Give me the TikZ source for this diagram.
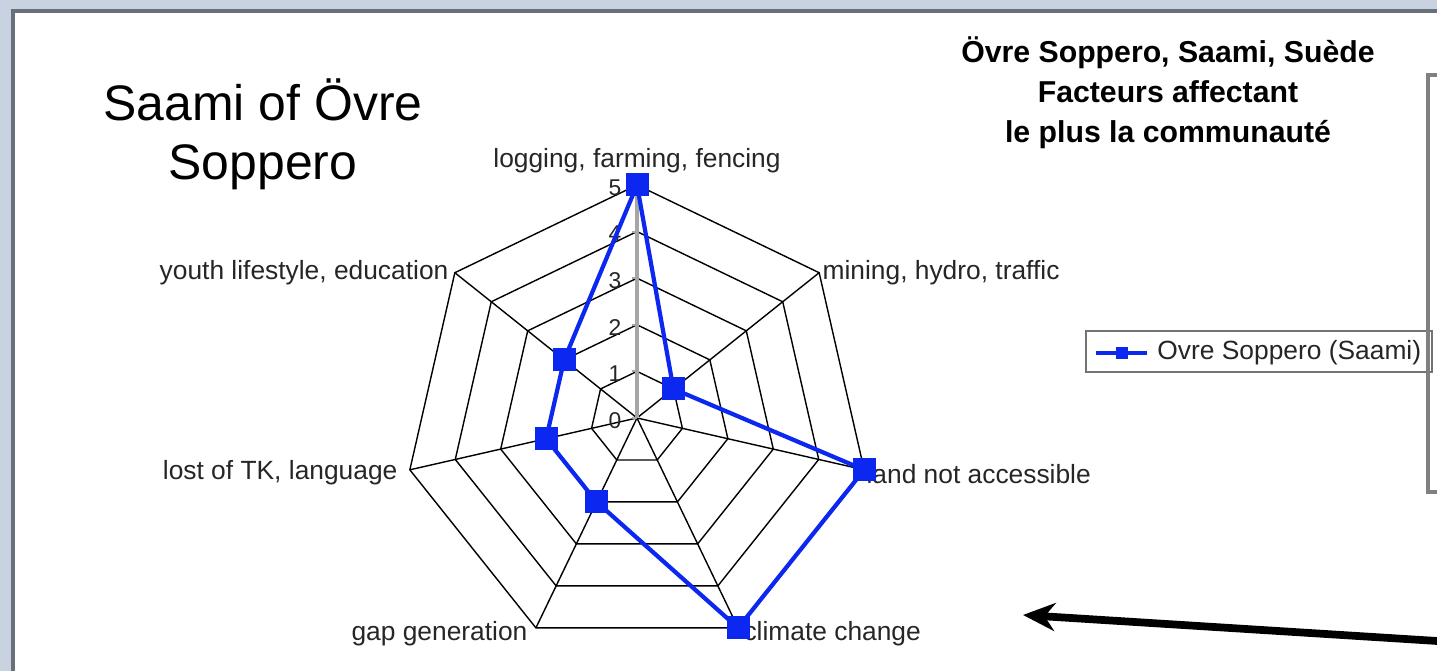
\documentclass[tikz,border=0pt]{standalone}
\usepackage{fontspec}
\setmainfont{Liberation Sans}
\usetikzlibrary{arrows.meta}
\definecolor{seriesblue}{RGB}{12,40,240}
\definecolor{slidebg}{RGB}{200,210,224}
\definecolor{framegray}{RGB}{105,112,122}

\tikzset{
  ring/.style={draw=black, line width=0.4pt},
  valaxis/.style={draw=black!35, line width=1pt},
  series/.style={draw=seriesblue, line width=1.2pt, line join=round},
  mk/.style={fill=seriesblue, minimum size=2.3mm, inner sep=0pt},
  axlabel/.style={font=\fontsize{7.5}{9}\selectfont, text=black!85, inner sep=0.5pt},
  ticklabel/.style={font=\fontsize{6.5}{8}\selectfont, text=black!85, inner sep=0pt, anchor=east},
}

\begin{document}
\begin{tikzpicture}
	\useasboundingbox (0,0) rectangle (14.37,6.71);
	% slide and frame
	\fill[slidebg] (0,0) rectangle (14.37,6.71);
	\fill[white] (0.13,0) rectangle (14.37,6.60);
	\draw[framegray, line width=1.2pt] (0.13,0) -- (0.13,6.60) -- (14.37,6.60);
	%
	\node[font=\fontsize{14.2}{16.8}\selectfont, align=center] (title) at (2.63,5.37) {Saami of Övre\\Soppero};
	\node[font=\bfseries\fontsize{8.6}{11.4}\selectfont, align=center] (charttitle) at (11.68,5.78) {Övre Soppero, Saami, Suède\\Facteurs affectant\\le plus la communauté};
	%
	\begin{scope}[shift={(6.37,2.53)}, x=0.466cm, y=0.466cm]
	\coordinate (c) at (0,0);
	\coordinate (o1) at (90:5);
	\coordinate (o2) at (38.571:5);
	\coordinate (o3) at (-12.857:5);
	\coordinate (o4) at (-64.286:5);
	\coordinate (o5) at (-115.714:5);
	\coordinate (o6) at (-167.143:5);
	\coordinate (o7) at (141.429:5);
	%
	\draw[ring] (90:1) -- (38.571:1) -- (-12.857:1) -- (-64.286:1) -- (-115.714:1) -- (-167.143:1) -- (141.429:1) -- cycle;
	\draw[ring] (90:2) -- (38.571:2) -- (-12.857:2) -- (-64.286:2) -- (-115.714:2) -- (-167.143:2) -- (141.429:2) -- cycle;
	\draw[ring] (90:3) -- (38.571:3) -- (-12.857:3) -- (-64.286:3) -- (-115.714:3) -- (-167.143:3) -- (141.429:3) -- cycle;
	\draw[ring] (90:4) -- (38.571:4) -- (-12.857:4) -- (-64.286:4) -- (-115.714:4) -- (-167.143:4) -- (141.429:4) -- cycle;
	\draw[ring] (o1) -- (o2) -- (o3) -- (o4) -- (o5) -- (o6) -- (o7) -- cycle;
	\draw[ring] (c) -- (o2);
	\draw[ring] (c) -- (o3);
	\draw[ring] (c) -- (o4);
	\draw[ring] (c) -- (o5);
	\draw[ring] (c) -- (o6);
	\draw[ring] (c) -- (o7);
	\draw[valaxis] (c) -- (o1);
	%
	\draw[valaxis, line width=0.6pt] (-0.11,0) -- (0,0);
	\draw[valaxis, line width=0.6pt] (-0.11,1) -- (0,1);
	\draw[valaxis, line width=0.6pt] (-0.11,2) -- (0,2);
	\draw[valaxis, line width=0.6pt] (-0.11,3) -- (0,3);
	\draw[valaxis, line width=0.6pt] (-0.11,4) -- (0,4);
	\draw[valaxis, line width=0.6pt] (-0.11,5) -- (0,5);
	\node[ticklabel] (t0) at (-0.32,-0.05) {0};
	\node[ticklabel] (t1) at (-0.32,0.95) {1};
	\node[ticklabel] (t2) at (-0.32,1.95) {2};
	\node[ticklabel] (t3) at (-0.32,2.95) {3};
	\node[ticklabel] (t4) at (-0.32,3.95) {4};
	\node[ticklabel] (t5) at (-0.32,4.95) {5};
	%
	\node[axlabel, anchor=south] (l1) at ([yshift=0.1cm]o1) {logging, farming, fencing};
	\node[axlabel, anchor=west] (l2) at ([xshift=0.01cm]o2) {mining, hydro, traffic};
	\node[axlabel, anchor=west] (l3) at ([yshift=-0.04cm]o3) {land not accessible};
	\node[axlabel, anchor=west] (l4) at ([xshift=0.03cm,yshift=-0.06cm]o4) {climate change};
	\node[axlabel, anchor=east] (l5) at ([xshift=-0.06cm,yshift=-0.06cm]o5) {gap generation};
	\node[axlabel, anchor=east] (l6) at ([xshift=-0.1cm,yshift=-0.03cm]o6) {lost of TK, language};
	\node[axlabel, anchor=east] (l7) at ([xshift=-0.04cm]o7) {youth lifestyle, education};
	%
	\coordinate (v1) at (90:5);
	\coordinate (v2) at (38.571:1);
	\coordinate (v3) at (-12.857:5);
	\coordinate (v4) at (-64.286:5);
	\coordinate (v5) at (-115.714:2);
	\coordinate (v6) at (-167.143:2);
	\coordinate (v7) at (141.429:2);
	\draw[series] (v1) -- (v2) -- (v3) -- (v4) -- (v5) -- (v6) -- (v7) -- cycle;
	\node[mk] (p1) at (v1) {};
	\node[mk] (p2) at (v2) {};
	\node[mk] (p3) at (v3) {};
	\node[mk] (p4) at (v4) {};
	\node[mk] (p5) at (v5) {};
	\node[mk] (p6) at (v6) {};
	\node[mk] (p7) at (v7) {};
	\end{scope}
	%
	\node[draw=black!55, line width=0.5pt, minimum width=3.46cm, minimum height=0.41cm, inner sep=0pt] (legend) at (12.59,3.195) {};
	\coordinate (lgA) at (10.96,3.18);
	\coordinate (lgB) at (11.47,3.18);
	\draw[series] (lgA) -- (lgB);
	\node[mk, minimum size=1.2mm] (lgmk) at (11.215,3.18) {};
	\node[axlabel, anchor=west] (lgtext) at (11.55,3.18) {Ovre Soppero (Saami)};
	%
	\draw[black!50, line width=0.9pt] (14.37,5.96) -- (14.28,5.96) -- (14.28,1.79) -- (14.37,1.79);
	%
	\coordinate (arrA) at (14.37,0.30);
	\coordinate (arrB) at (10.23,0.56);
	\draw[line width=2.2pt, -{Stealth[length=3.2mm,width=2.8mm]}] (arrA) -- (arrB);
\end{tikzpicture}
\end{document}
